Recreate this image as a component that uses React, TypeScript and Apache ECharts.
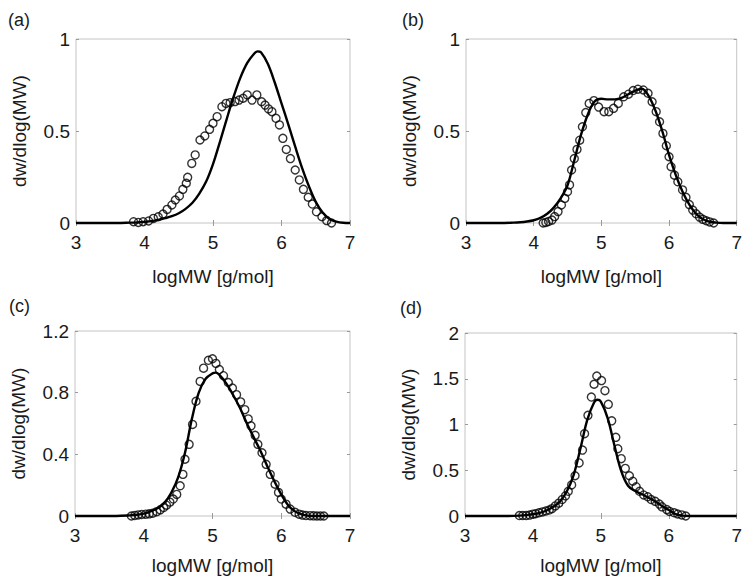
import React, { useEffect, useRef } from "react";
import * as echarts from "echarts";

// ---------- data ----------
const xTicks = [3, 4, 5, 6, 7];

// (a)
const aLineX = [3, 3.6, 3.8, 3.9, 4.0, 4.1, 4.2, 4.3, 4.4, 4.5, 4.6, 4.7, 4.8, 4.9, 5.0, 5.1, 5.2, 5.3, 5.4, 5.5, 5.6, 5.65, 5.7, 5.8, 5.9, 6.0, 6.1, 6.2, 6.3, 6.4, 6.5, 6.6, 6.7, 6.8, 6.9, 7.0];
const aLineY = [0, 0, 0.002, 0.003, 0.006, 0.01, 0.017, 0.026, 0.037, 0.053, 0.077, 0.11, 0.16, 0.225, 0.32, 0.44, 0.565, 0.685, 0.79, 0.87, 0.92, 0.933, 0.928, 0.865, 0.765, 0.65, 0.535, 0.415, 0.3, 0.2, 0.115, 0.057, 0.022, 0.007, 0.001, 0];
const aDotX = [3.84, 3.91, 3.98, 4.06, 4.13, 4.20, 4.27, 4.33, 4.40, 4.45, 4.51, 4.56, 4.61, 4.63, 4.69, 4.74, 4.81, 4.88, 4.95, 5.00, 5.06, 5.13, 5.19, 5.25, 5.32, 5.38, 5.44, 5.50, 5.57, 5.64, 5.71, 5.76, 5.81, 5.86, 5.92, 5.97, 6.02, 6.07, 6.13, 6.20, 6.26, 6.32, 6.39, 6.45, 6.51, 6.59, 6.66, 6.73];
const aDotY = [0.007, 0.003, 0.007, 0.011, 0.025, 0.034, 0.049, 0.074, 0.098, 0.125, 0.147, 0.183, 0.216, 0.248, 0.324, 0.37, 0.451, 0.473, 0.509, 0.542, 0.578, 0.632, 0.65, 0.654, 0.66, 0.668, 0.678, 0.696, 0.668, 0.696, 0.659, 0.641, 0.62, 0.605, 0.569, 0.533, 0.46, 0.4, 0.35, 0.288, 0.234, 0.183, 0.14, 0.103, 0.061, 0.034, 0.013, 0.0];

// (b)
const bLineX = [3, 3.5, 3.7, 3.8, 3.9, 4.0, 4.1, 4.2, 4.3, 4.4, 4.5, 4.6, 4.7, 4.8, 4.9, 5.0, 5.1, 5.2, 5.3, 5.4, 5.5, 5.6, 5.7, 5.8, 5.9, 6.0, 6.1, 6.2, 6.3, 6.4, 6.5, 6.6, 6.7, 6.8, 7];
const bLineY = [0, 0, 0.002, 0.004, 0.008, 0.015, 0.028, 0.05, 0.085, 0.135, 0.205, 0.34, 0.48, 0.59, 0.66, 0.675, 0.672, 0.672, 0.68, 0.7, 0.72, 0.73, 0.69, 0.61, 0.5, 0.37, 0.26, 0.17, 0.1, 0.05, 0.02, 0.007, 0.002, 0, 0];
const bDotX = [4.14, 4.18, 4.22, 4.27, 4.31, 4.36, 4.41, 4.46, 4.5, 4.53, 4.56, 4.6, 4.64, 4.68, 4.72, 4.77, 4.82, 4.89, 4.96, 5.04, 5.11, 5.18, 5.25, 5.33, 5.4, 5.47, 5.54, 5.62, 5.69, 5.75, 5.81, 5.86, 5.91, 5.96, 6.0, 6.03, 6.08, 6.13, 6.2, 6.25, 6.3, 6.35, 6.4, 6.45, 6.5, 6.55, 6.6, 6.66];
const bDotY = [0, 0.003, 0.008, 0.016, 0.035, 0.062, 0.098, 0.134, 0.17, 0.207, 0.288, 0.35, 0.4, 0.45, 0.523, 0.6, 0.65, 0.665, 0.63, 0.605, 0.605, 0.623, 0.65, 0.686, 0.7, 0.72, 0.727, 0.723, 0.705, 0.659, 0.605, 0.55, 0.487, 0.42, 0.36, 0.306, 0.26, 0.224, 0.18, 0.14, 0.1, 0.07, 0.05, 0.032, 0.02, 0.012, 0.006, 0];

// (c)
const cLineX = [3, 3.6, 3.8, 3.9, 4.0, 4.1, 4.2, 4.3, 4.4, 4.5, 4.6, 4.7, 4.8, 4.9, 5.0, 5.05, 5.1, 5.2, 5.3, 5.4, 5.5, 5.6, 5.7, 5.8, 5.9, 6.0, 6.1, 6.2, 6.3, 6.4, 6.5, 7];
const cLineY = [0, 0, 0.004, 0.008, 0.015, 0.03, 0.05, 0.085, 0.15, 0.25, 0.41, 0.63, 0.8, 0.89, 0.925, 0.93, 0.915, 0.86, 0.785, 0.7, 0.6, 0.51, 0.42, 0.32, 0.225, 0.14, 0.07, 0.03, 0.01, 0.002, 0, 0];
const cDotX = [3.82, 3.87, 3.92, 3.97, 4.03, 4.08, 4.13, 4.19, 4.24, 4.29, 4.33, 4.38, 4.43, 4.48, 4.53, 4.57, 4.6, 4.66, 4.71, 4.76, 4.82, 4.87, 4.94, 5.0, 5.05, 5.1, 5.16, 5.23, 5.29, 5.35, 5.41, 5.47, 5.52, 5.56, 5.62, 5.66, 5.72, 5.78, 5.84, 5.91, 5.96, 6.0, 6.07, 6.13, 6.2, 6.26, 6.31, 6.36, 6.42, 6.47, 6.52, 6.57, 6.62];
const cDotY = [0, 0.004, 0.007, 0.01, 0.012, 0.014, 0.018, 0.028, 0.04, 0.055, 0.07, 0.09, 0.11, 0.14, 0.196, 0.27, 0.368, 0.465, 0.594, 0.744, 0.873, 0.959, 1.01, 1.02, 0.99, 0.95, 0.91, 0.866, 0.83, 0.787, 0.74, 0.69, 0.63, 0.585, 0.523, 0.465, 0.41, 0.335, 0.27, 0.206, 0.153, 0.11, 0.077, 0.045, 0.024, 0.012, 0.006, 0.003, 0.002, 0.001, 0, 0, 0];

// (d)
const dLineX = [3, 3.6, 3.8, 3.9, 4.0, 4.1, 4.2, 4.3, 4.4, 4.5, 4.6, 4.7, 4.8, 4.9, 4.95, 5.0, 5.1, 5.2, 5.3, 5.4, 5.5, 5.6, 5.7, 5.8, 5.9, 6.0, 6.1, 6.2, 6.3, 7];
const dLineY = [0, 0, 0.004, 0.01, 0.02, 0.035, 0.06, 0.1, 0.16, 0.27, 0.45, 0.74, 1.05, 1.24, 1.27, 1.25, 1.07, 0.77, 0.49, 0.33, 0.275, 0.24, 0.2, 0.16, 0.11, 0.065, 0.02, 0.004, 0, 0];
const dDotX = [3.8, 3.85, 3.9, 3.95, 4.0, 4.04, 4.09, 4.14, 4.19, 4.24, 4.28, 4.33, 4.38, 4.43, 4.48, 4.52, 4.57, 4.62, 4.68, 4.73, 4.76, 4.81, 4.86, 4.9, 4.94, 5.01, 5.06, 5.11, 5.16, 5.22, 5.25, 5.3, 5.36, 5.42, 5.47, 5.52, 5.57, 5.63, 5.69, 5.74, 5.8, 5.86, 5.9, 5.97, 6.01, 6.08, 6.13, 6.19, 6.25];
const dDotY = [0.005, 0.005, 0.005, 0.01, 0.02, 0.025, 0.035, 0.045, 0.055, 0.065, 0.08, 0.11, 0.14, 0.18, 0.22, 0.27, 0.34, 0.44, 0.58, 0.72, 0.9, 1.1, 1.3, 1.44, 1.53, 1.48, 1.37, 1.22, 1.04, 0.86, 0.735, 0.627, 0.52, 0.44, 0.38, 0.32, 0.27, 0.23, 0.21, 0.18, 0.16, 0.13, 0.1, 0.07, 0.05, 0.035, 0.022, 0.012, 0];

const yMaxes = [1, 1, 1.2, 2];
const yIntervals = [0.5, 0.5, 0.4, 0.5];
const panelLabels = ["(a)", "(b)", "(c)", "(d)"];
const xName = "logMW [g/mol]";
const yName = "dw/dlog(MW)";

const lines = [
  [aLineX, aLineY],
  [bLineX, bLineY],
  [cLineX, cLineY],
  [dLineX, dLineY],
];
const dots = [
  [aDotX, aDotY],
  [bDotX, bDotY],
  [cDotX, cDotY],
  [dDotX, dDotY],
];

// ---------- layout ----------
const grids = [
  { left: 76, top: 39, width: 274, height: 184 },
  { left: 466, top: 39, width: 276, height: 184 },
  { left: 75, top: 331, width: 275, height: 186 },
  { left: 465, top: 333, width: 278, height: 185 },
];
const labelPos = [
  { left: 8, top: 11 },
  { left: 402, top: 11 },
  { left: 9, top: 297 },
  { left: 400, top: 299 },
];
const xNameGaps = [44, 44, 40, 40];

const FONT = "Liberation Sans, Arial, Helvetica, sans-serif";
const TXT = "#1a1a1a";
const TICK = "#9a9a9a";

function zip(xs: number[], ys: number[]) {
  return xs.map((x, i) => [x, ys[i]]);
}

export default function App() {
  const ref = useRef<HTMLDivElement>(null);
  useEffect(() => {
    if (!ref.current) return;
    const chart = echarts.init(ref.current, undefined, { renderer: "svg" });
    const xAxis: any[] = [];
    const yAxis: any[] = [];
    const series: any[] = [];
    grids.forEach((_, i) => {
      const tick = { show: true, inside: true, length: 3, lineStyle: { color: TICK, width: 1 } };
      xAxis.push({
        type: "value",
        gridIndex: i,
        min: xTicks[0],
        max: xTicks[xTicks.length - 1],
        interval: 1,
        position: "bottom",
        name: xName,
        nameLocation: "middle",
        nameGap: xNameGaps[i],
        nameTextStyle: { fontSize: 19, color: TXT, fontFamily: FONT },
        axisLine: { show: false },
        axisTick: tick,
        splitLine: { show: false },
        axisLabel: { fontSize: 19, color: TXT, fontFamily: FONT, margin: 10 },
      });
      xAxis.push({
        type: "value",
        gridIndex: i,
        min: xTicks[0],
        max: xTicks[xTicks.length - 1],
        interval: 1,
        position: "top",
        axisLine: { show: false },
        axisTick: tick,
        splitLine: { show: false },
        axisLabel: { show: false },
      });
      yAxis.push({
        type: "value",
        gridIndex: i,
        min: 0,
        max: yMaxes[i],
        interval: yIntervals[i],
        position: "left",
        name: yName,
        nameLocation: "middle",
        nameGap: 47,
        nameTextStyle: { fontSize: 19, color: TXT, fontFamily: FONT },
        axisLine: { show: false },
        axisTick: tick,
        splitLine: { show: false },
        axisLabel: { fontSize: 19, color: TXT, fontFamily: FONT, margin: 6 },
      });
      yAxis.push({
        type: "value",
        gridIndex: i,
        min: 0,
        max: yMaxes[i],
        interval: yIntervals[i],
        position: "right",
        axisLine: { show: false },
        axisTick: tick,
        splitLine: { show: false },
        axisLabel: { show: false },
      });
      series.push({
        type: "line",
        xAxisIndex: 2 * i,
        yAxisIndex: 2 * i,
        data: zip(lines[i][0], lines[i][1]),
        smooth: 0.35,
        showSymbol: false,
        clip: false,
        lineStyle: { color: "#000", width: 2.4 },
        z: 2,
      });
      series.push({
        type: "scatter",
        xAxisIndex: 2 * i,
        yAxisIndex: 2 * i,
        data: zip(dots[i][0], dots[i][1]),
        symbol: "circle",
        symbolSize: 8,
        clip: false,
        itemStyle: { color: "transparent", borderColor: "#000", borderWidth: 1.4 },
        z: 3,
      });
    });
    chart.setOption({
      animation: false,
      backgroundColor: "#ffffff",
      grid: grids.map((g) => ({
        ...g,
        show: true,
        borderColor: "#c4c4c4",
        borderWidth: 1,
        backgroundColor: "transparent",
        containLabel: false,
      })),
      xAxis,
      yAxis,
      series,
      graphic: panelLabels.map((t, i) => ({
        type: "text",
        left: labelPos[i].left,
        top: labelPos[i].top,
        style: { text: t, fontSize: 18, fill: TXT, fontFamily: FONT },
      })),
    });
    return () => chart.dispose();
  }, []);
  return (
    <div
      ref={ref}
      style={{ position: "absolute", left: 0, top: 0, width: 745, height: 576 }}
    />
  );
}
